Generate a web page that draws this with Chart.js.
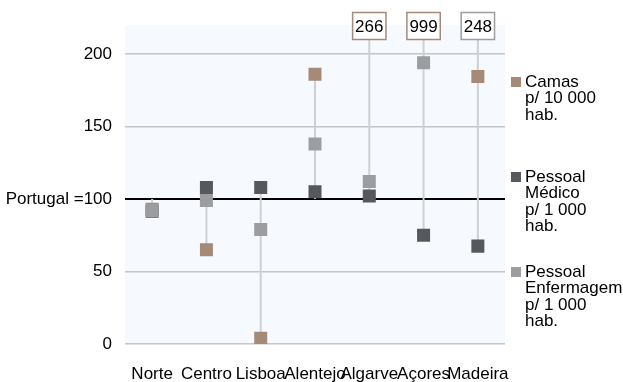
<!DOCTYPE html>
<html lang="pt">
<head>
  <meta charset="UTF-8" />
  <title>Recursos de saúde por região</title>
  <script src="https://cdn.jsdelivr.net/npm/chart.js"></script>
  <style>
    html, body { margin: 0; padding: 0; background: #fff; }
    #wrap { width: 623px; height: 382px; }
  </style>
</head>
<body>
  <div id="wrap"><canvas id="chart" width="623" height="382"></canvas></div>
  <script>
    // data (Portugal = 100)
    const regions = ['Norte', 'Centro', 'Lisboa', 'Alentejo', 'Algarve', 'Açores', 'Madeira'];
    const camas = [93, 65, 4, 186, 266, 999, 184.5];
    const medicos = [91.5, 108, 108, 105, 102, 75, 67.5];
    const enfermagem = [92, 99, 79, 138, 112, 194, 248];
    const yTicks = [0, 50, 100, 150, 200];
    const yMax = 220;
    const refValue = 100;

    const legendText = [
      ['Camas', 'p/ 10 000', 'hab.'],
      ['Pessoal', 'Médico', 'p/ 1 000', 'hab.'],
      ['Pessoal', 'Enfermagem', 'p/ 1 000', 'hab.']
    ];
    const colors = ['#a58a78', '#55595d', '#9b9da1'];
    const series = [camas, medicos, enfermagem];
    const FONT = "'Liberation Sans', Arial, sans-serif";

    const plotBg = {
      id: 'plotBg',
      beforeDraw(chart) {
        const { ctx, chartArea: a } = chart;
        ctx.save();
        ctx.fillStyle = '#f6fafe';
        ctx.fillRect(a.left, a.top, a.right - a.left, a.bottom - a.top);
        ctx.restore();
      }
    };

    // vertical high-low lines, from the highest to the lowest value (incl. 100)
    const hiLo = {
      id: 'hiLo',
      beforeDatasetsDraw(chart) {
        const { ctx, chartArea: a, scales: { x, y } } = chart;
        ctx.save();
        ctx.beginPath();
        ctx.rect(a.left, a.top, a.right - a.left, a.bottom - a.top);
        ctx.clip();
        ctx.strokeStyle = '#cfd0d2';
        ctx.lineWidth = 2;
        regions.forEach((r, i) => {
          const vals = series.map(s => s[i]).concat(refValue);
          const px = x.getPixelForValue(i);
          ctx.beginPath();
          ctx.moveTo(px, y.getPixelForValue(Math.max(...vals)));
          ctx.lineTo(px, y.getPixelForValue(Math.min(...vals)));
          ctx.stroke();
        });
        ctx.restore();
      }
    };

    // boxed labels for values above the axis, and the legend on the right
    const extras = {
      id: 'extras',
      afterDraw(chart) {
        const { ctx, scales: { x } } = chart;
        ctx.save();
        ctx.font = '17px ' + FONT;
        ctx.textAlign = 'center';
        ctx.textBaseline = 'middle';
        series.forEach((s, d) => {
          s.forEach((v, i) => {
            if (v <= yMax) return;
            const px = x.getPixelForValue(i);
            const w = ctx.measureText(String(v)).width + 5;
            ctx.fillStyle = '#fff';
            ctx.fillRect(px - w / 2, 12.5, w, 27);
            ctx.strokeStyle = colors[d];
            ctx.lineWidth = 1.5;
            ctx.strokeRect(px - w / 2, 12.5, w, 27);
            ctx.fillStyle = '#000';
            ctx.fillText(String(v), px, 27);
          });
        });

        ctx.textAlign = 'left';
        const starts = [82, 177, 272];
        legendText.forEach((lines, d) => {
          ctx.fillStyle = colors[d];
          ctx.fillRect(511, starts[d] - 5, 10, 10);
          ctx.fillStyle = '#000';
          lines.forEach((t, k) => ctx.fillText(t, 525, starts[d] + k * 16.6));
        });
        ctx.restore();
      }
    };

    new Chart(document.getElementById('chart'), {
      type: 'line',
      data: {
        labels: regions,
        datasets: series.map((s, d) => ({
          label: legendText[d].join(' '),
          data: s.map(v => (v > yMax ? null : v)),
          order: series.length - d,
          showLine: false,
          pointStyle: 'rect',
          pointRadius: 9.2,
          pointHoverRadius: 9.2,
          borderWidth: 0,
          backgroundColor: colors[d],
          borderColor: colors[d]
        }))
      },
      options: {
        responsive: false,
        animation: false,
        layout: { padding: { top: 25, right: 118, left: 0, bottom: 0 } },
        plugins: { legend: { display: false }, tooltip: { enabled: false } },
        scales: {
          x: {
            offset: true,
            grid: { display: false },
            border: { display: false },
            ticks: { autoSkip: false, maxRotation: 0, color: '#000', padding: 12, font: { family: FONT, size: 17 } },
            afterFit: s => { s.height = 38; }
          },
          y: {
            min: 0,
            max: yMax,
            border: { display: false },
            afterBuildTicks: s => { s.ticks = yTicks.map(v => ({ value: v })); },
            grid: {
              drawTicks: false,
              color: c => (c.tick && c.tick.value === refValue ? '#000' : '#c4c6c8'),
              lineWidth: c => (c.tick && c.tick.value === refValue ? 2 : 1.5)
            },
            ticks: {
              color: '#000',
              padding: 13,
              font: { family: FONT, size: 17 },
              callback: v => (v === refValue ? 'Portugal =100' : v)
            },
            afterFit: s => { s.width = 125; }
          }
        }
      },
      plugins: [plotBg, hiLo, extras]
    });
  </script>
</body>
</html>
